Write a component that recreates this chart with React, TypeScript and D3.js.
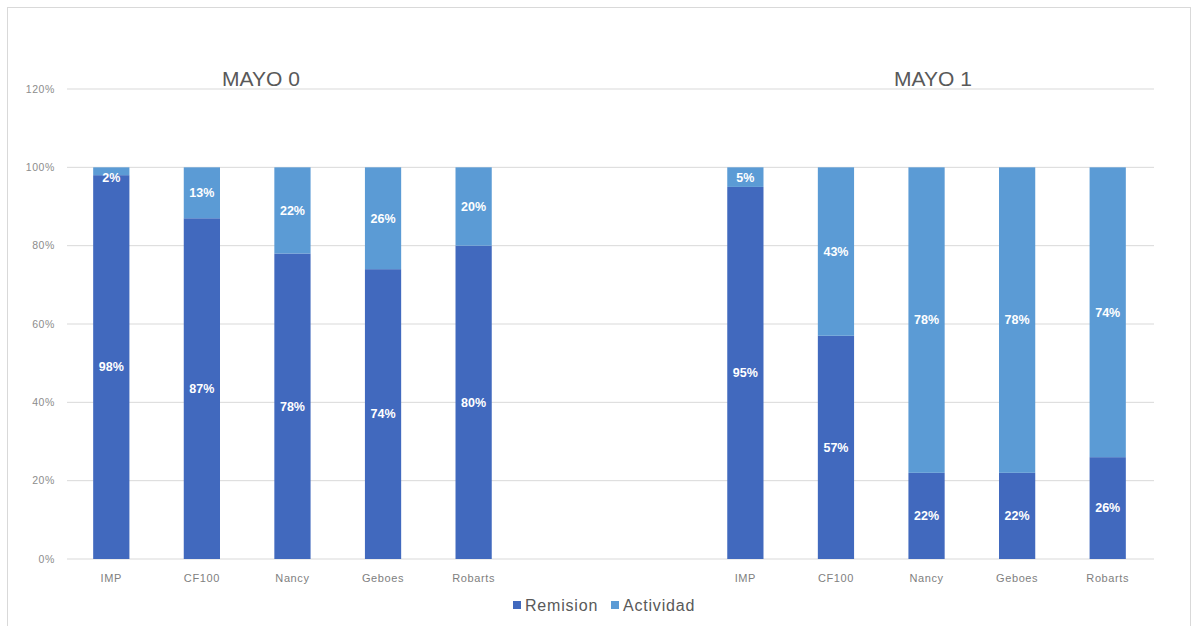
import React from 'react';
import * as d3 from 'd3';

// datos del gráfico
const categories = ['IMP', 'CF100', 'Nancy', 'Geboes', 'Robarts'];
const groups = ['MAYO 0', 'MAYO 1'];
const mayo0Remision = [98, 87, 78, 74, 80];
const mayo0Actividad = [2, 13, 22, 26, 20];
const mayo1Remision = [95, 57, 22, 22, 26];
const mayo1Actividad = [5, 43, 78, 78, 74];
const yTicks = [0, 20, 40, 60, 80, 100, 120];
const seriesNames = ['Remision', 'Actividad'];

const W = 1194;
const H = 626;
const colorRem = '#4169be';
const colorAct = '#5b9bd5';
const font = '"Liberation Sans", Arial, sans-serif';

// 5 barras + 2 huecos + 5 barras
const slots = [
  ...categories.map(c => '0-' + c),
  'gap-a',
  'gap-b',
  ...categories.map(c => '1-' + c),
];

const rows = [
  ...categories.map((c, i) => ({ key: '0-' + c, name: c, rem: mayo0Remision[i], act: mayo0Actividad[i] })),
  ...categories.map((c, i) => ({ key: '1-' + c, name: c, rem: mayo1Remision[i], act: mayo1Actividad[i] })),
];

const App = () => {
  const x = d3.scaleBand().domain(slots).range([66, 1153]).paddingInner(0.6).paddingOuter(0.3);
  const y = d3.scaleLinear().domain([0, 120]).range([559, 89]);
  const bw = x.bandwidth();

  const stack = d3.stack<any>().keys(['rem', 'act'])(rows);

  return (
    <svg width={W} height={H} style={{ position: 'absolute', left: 0, top: 0, background: '#fff' }}>
      <rect x={7.5} y={7.5} width={1183} height={640} fill="none" stroke="#d9d9d9" />

      {/* líneas de la cuadrícula */}
      {yTicks.map(t => (
        <g key={t}>
          <line x1={67} x2={1154} y1={y(t)} y2={y(t)} stroke="#d9d9d9" strokeWidth={1} />
          <text x={55} y={y(t)} dy="0.35em" textAnchor="end" fontSize={10.5} letterSpacing={0.6} fill="#8c8c8c" fontFamily={font}>
            {t}%
          </text>
        </g>
      ))}

      {/* barras apiladas */}
      {stack.map((s, si) => (
        <g key={s.key} fill={si === 0 ? colorRem : colorAct}>
          {s.map(d => (
            <rect
              key={d.data.key}
              x={x(d.data.key)}
              y={y(d[1])}
              width={bw}
              height={y(d[0]) - y(d[1])}
            />
          ))}
        </g>
      ))}

      {/* etiquetas de datos */}
      {stack.map(s =>
        s.map(d => {
          const mid = (y(d[0]) + y(d[1])) / 2;
          return (
            <text
              key={s.key + d.data.key}
              x={(x(d.data.key) || 0) + bw / 2}
              y={Math.max(mid, y(100) + 10)}
              dy="0.35em"
              textAnchor="middle"
              fontSize={12.5}
              fontWeight="bold"
              fill="#fff"
              fontFamily={font}
            >
              {d[1] - d[0]}%
            </text>
          );
        })
      )}

      {/* etiquetas del eje x */}
      {rows.map(r => (
        <text
          key={'xl' + r.key}
          x={(x(r.key) || 0) + bw / 2}
          y={578}
          dy="0.35em"
          textAnchor="middle"
          fontSize={11}
          letterSpacing={0.6}
          fill="#808080"
          fontFamily={font}
        >
          {r.name}
        </text>
      ))}

      {/* títulos */}
      {groups.map((g, i) => (
        <text key={g} x={i === 0 ? 261 : 933} y={86} textAnchor="middle" fontSize={21} fill="#595959" fontFamily={font}>
          {g}
        </text>
      ))}

      {/* leyenda */}
      {seriesNames.map((n, i) => (
        <g key={n} transform={`translate(${513 + i * 98},601)`}>
          <rect width={8} height={8} fill={i === 0 ? colorRem : colorAct} />
          <text x={12} y={4} dy="0.35em" fontSize={16} letterSpacing={0.8} fill="#595959" fontFamily={font}>
            {n}
          </text>
        </g>
      ))}
    </svg>
  );
};

export default App;
